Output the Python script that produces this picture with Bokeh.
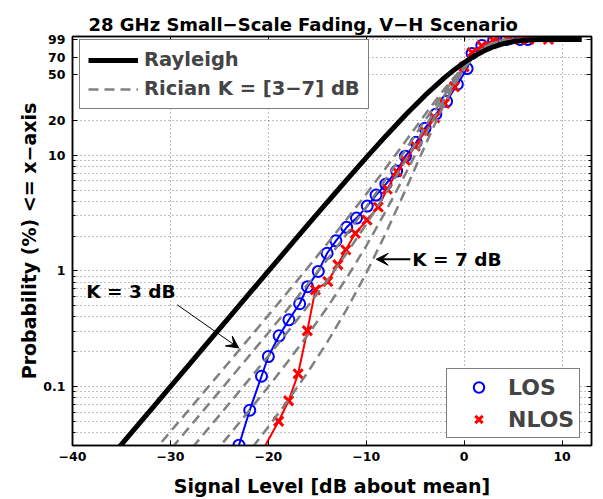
from bokeh.plotting import figure
from bokeh.models import (Range1d, FixedTicker, LinearAxis, LogAxis, Legend, LegendItem,
                          Label, Arrow, VeeHead, BasicTickFormatter)
from bokeh.embed import file_html
from bokeh.resources import INLINE

FONT = "DejaVu Sans"
TITLE = "28 GHz Small\u2212Scale Fading, V\u2212H Scenario"
XLABEL = "Signal Level [dB about mean]"
YLABEL = "Probability (%) <= x\u2212axis"

# ---------------- data ----------------
x_ticks = [-40, -30, -20, -10, 0, 10]
x_tick_labels = ["\u221240", "\u221230", "\u221220", "\u221210", "0", "10"]
y_ticks = [0.1, 1, 10, 20, 50, 70, 99]
y_tick_labels = ["0.1", "1", "10", "20", "50", "70", "99"]
y_minor = [0.04, 0.05, 0.06, 0.07, 0.08, 0.09,
           0.2, 0.3, 0.4, 0.5, 0.6, 0.7, 0.8, 0.9,
           2, 3, 4, 5, 6, 7, 8, 9]

ray_x = [-35.5, -34, -32, -30, -28, -26, -24, -22, -20, -18, -16, -14, -12, -10,
         -8, -6, -4, -2, -1, 0, 1, 2, 3, 4, 5, 6, 7, 8, 10, 12]
ray_p = [0.0282, 0.0398, 0.0631, 0.09995, 0.1584, 0.2509, 0.3973, 0.629, 0.995,
         1.572, 2.481, 3.90, 6.12, 9.52, 14.66, 22.2, 32.8, 46.8, 54.8, 63.2,
         71.6, 79.5, 86.4, 91.9, 95.8, 98.1, 99.33, 99.82, 99.995, 100]

ric_x = [-33, -30, -28, -26, -24, -22, -20, -18, -16, -14, -12, -10, -8, -6, -5,
         -4, -3, -2, -1, 0, 1, 2, 3, 4, 5, 6, 8]
ric_k3 = [0.02043, 0.04079, 0.0647, 0.1027, 0.1631, 0.2594, 0.4133, 0.6605, 1.06,
          1.714, 2.796, 4.621, 7.748, 13.16, 17.2, 22.44, 29.13, 37.44, 47.36,
          58.54, 70.16, 81, 89.75, 95.56, 98.56, 99.68, 100]
ric_k4 = [0.0143, 0.02856, 0.04534, 0.07203, 0.1146, 0.1827, 0.2924, 0.4703,
          0.7625, 1.251, 2.085, 3.553, 6.206, 11.09, 14.91, 20.02, 26.75, 35.35,
          45.85, 57.84, 70.34, 81.84, 90.79, 96.37, 98.98, 99.82, 100]
ric_k5 = [0.00885, 0.0177, 0.02812, 0.04476, 0.0714, 0.1143, 0.1841, 0.2991,
          0.4923, 0.8259, 1.422, 2.532, 4.683, 8.962, 12.5, 17.43, 24.17, 33.07,
          44.21, 57.16, 70.68, 82.89, 91.98, 97.2, 99.34, 99.91, 100]
ric_k6 = [0.004677, 0.009367, 0.01491, 0.02379, 0.03811, 0.06142, 0.09991,
          0.1648, 0.2776, 0.4816, 0.869, 1.646, 3.29, 6.89, 10.08, 14.75, 21.42,
          30.59, 42.46, 56.51, 71.2, 84.16, 93.26, 97.97, 99.62, 99.96, 100]
ric_k7 = [0.002018, 0.004051, 0.006466, 0.01036, 0.01671, 0.0272, 0.04494,
          0.0759, 0.1323, 0.241, 0.4646, 0.9582, 2.122, 4.991, 7.756, 12.05,
          18.56, 27.95, 40.58, 55.89, 71.92, 85.63, 94.57, 98.65, 99.81, 99.99, 100]

los_x = [-23.0, -21.9, -20.7, -20.0, -18.9, -17.9, -16.8, -16.0, -14.9, -14.0,
         -13.1, -12.0, -11.0, -9.9, -9.0, -8.0, -6.9, -6.0, -4.9, -4.0, -2.9,
         -1.8, -0.7, 0.3, 0.8, 1.8, 3.0, 4.3, 5.7, 6.5]
los_p = [0.0312, 0.0625, 0.123, 0.182, 0.275, 0.378, 0.52, 0.73, 0.99, 1.42,
         1.82, 2.38, 2.86, 3.63, 4.52, 5.62, 7.28, 9.8, 12.9, 17.1, 22.6, 29.2,
         41, 56, 75.7, 88.8, 98, 99.8, 100, 100]

nlos_x = [-20.6, -18.95, -17.93, -16.96, -16.02, -15.2, -13.93, -12.9, -12.09,
          -11.12, -9.93, -8.78, -7.86, -6.87, -6.0, -5.0, -4.0, -3.0, -2.0, -1.0,
          0.0, 0.8, 1.8, 3.0, 4.5, 5.7, 6.6, 8.6]
nlos_p = [0.028, 0.0502, 0.0755, 0.129, 0.304, 0.686, 0.809, 1.13, 1.52, 2.11,
          2.75, 3.56, 5.09, 7.18, 9.0, 12, 16, 21, 28, 39, 58, 77, 88, 98, 100,
          100, 100, 100]

# ---------------- figure ----------------
p = figure(width=603, height=499, x_range=Range1d(-40, 13), y_range=Range1d(0.031, 106),
           y_axis_type="log", output_backend="svg", toolbar_location=None, title=TITLE,
           min_border_left=72, min_border_right=12, min_border_top=36, min_border_bottom=53,
           background_fill_color="white", border_fill_color="white")
p.outline_line_color = "black"
p.outline_line_width = 1.5
p.title.text_font = FONT
p.title.text_font_style = "bold"
p.title.text_font_size = "18px"
p.title.text_color = "black"
p.title.align = "left"
p.title.offset = 16
p.title.vertical_align = "top"
p.title.standoff = 0

xt = FixedTicker(ticks=x_ticks, minor_ticks=[])
yt = FixedTicker(ticks=y_ticks, minor_ticks=y_minor)

def style_axis(ax, ticker, labels, show_labels):
    ax.ticker = ticker
    ax.formatter = BasicTickFormatter()
    ax.major_label_overrides = {t: (l if show_labels else "") for t, l in zip(ticker.ticks, labels)}
    ax.axis_line_color = "black"
    ax.axis_line_width = 1.5
    ax.major_tick_in = 5
    ax.major_tick_out = 0
    ax.minor_tick_in = 3
    ax.minor_tick_out = 0
    ax.major_tick_line_color = "black"
    ax.minor_tick_line_color = "black"
    ax.major_label_text_font = FONT
    ax.major_label_text_font_style = "bold"
    ax.major_label_text_font_size = "12.5px" if show_labels else "0px"
    ax.major_label_text_color = "black"
    ax.axis_label_text_font = FONT
    ax.axis_label_text_font_style = "bold"
    ax.axis_label_text_font_size = "19px"
    ax.axis_label_text_color = "black"

xa = p.xaxis[0]
ya = p.yaxis[0]
style_axis(xa, xt, x_tick_labels, True)
style_axis(ya, yt, y_tick_labels, True)
xa.major_label_standoff = 6
xa.axis_label = XLABEL
xa.axis_label_standoff = 11
ya.major_label_standoff = 7
ya.axis_label = YLABEL
ya.axis_label_standoff = 0

xa_top = LinearAxis()
style_axis(xa_top, xt, x_tick_labels, False)
xa_top.major_label_standoff = 0
p.add_layout(xa_top, "above")
ya_right = LogAxis()
style_axis(ya_right, yt, y_tick_labels, False)
ya_right.major_label_standoff = 0
p.add_layout(ya_right, "right")

for g in (p.xgrid[0], p.ygrid[0]):
    g.grid_line_color = "black"
    g.grid_line_alpha = 0.5
    g.grid_line_dash = "1 3"
    g.grid_line_width = 1
p.xgrid[0].ticker = xt
p.ygrid[0].ticker = yt
p.ygrid[0].minor_grid_line_color = "black"
p.ygrid[0].minor_grid_line_alpha = 0.5
p.ygrid[0].minor_grid_line_dash = "1 3"

# ---------------- data glyphs ----------------
BLUE = "#0000ff"
RED = "#ff0000"
GRAY = "#808080"
p.line(los_x, los_p, line_color=BLUE, line_width=2)
los_m = p.scatter(los_x, los_p, marker="circle", size=11, fill_color=None,
                  line_color=BLUE, line_width=2)
p.line(nlos_x, nlos_p, line_color=RED, line_width=2)
nlos_m = p.scatter(nlos_x, nlos_p, marker="x", size=13, line_color=RED, line_width=3)

ric_r = None
for series in (ric_k3, ric_k4, ric_k5, ric_k6, ric_k7):
    r = p.line(ric_x, series, line_color=GRAY, line_width=2.5, line_dash="10 6")
    if ric_r is None:
        ric_r = r
ray_r = p.line(ray_x, ray_p, line_color="black", line_width=5)

# ---------------- annotations ----------------
p.add_layout(Label(x=-38.6, y=0.663, text="K = 3 dB", text_baseline="middle",
                   text_font=FONT, text_font_style="bold", text_font_size="18.5px",
                   text_color="black"))
p.add_layout(Arrow(end=VeeHead(size=12, fill_color="black", line_color="black"),
                   x_start=-29.3, y_start=0.509, x_end=-23.03, y_end=0.216,
                   line_color="black", line_width=1))
p.add_layout(Label(x=-5.3, y=1.26, text="K = 7 dB", text_baseline="middle",
                   text_font=FONT, text_font_style="bold", text_font_size="18.5px",
                   text_color="black"))
p.add_layout(Arrow(end=VeeHead(size=12, fill_color="black", line_color="black"),
                   x_start=-5.5, y_start=1.26, x_end=-8.98, y_end=1.26,
                   line_color="black", line_width=2))

# ---------------- legends ----------------
leg1 = Legend(items=[LegendItem(label="Rayleigh", renderers=[ray_r]),
                     LegendItem(label="Rician K = [3\u22127] dB", renderers=[ric_r])],
              location=(7, 336), padding=8, spacing=6, glyph_width=50, glyph_height=22,
              label_height=22, label_standoff=6, label_text_font=FONT,
              label_text_font_style="bold", label_text_font_size="19.5px",
              border_line_color="black", border_line_width=1.5,
              background_fill_color="white", background_fill_alpha=1, margin=0)
leg2 = Legend(items=[LegendItem(label="LOS", renderers=[los_m]),
                     LegendItem(label="NLOS", renderers=[nlos_m])],
              location=(374, 7), padding=5, spacing=6, glyph_width=53, glyph_height=26,
              label_height=26, label_standoff=3, label_text_font=FONT,
              label_text_font_style="bold", label_text_font_size="22px",
              border_line_color="black", border_line_width=1.5,
              background_fill_color="white", background_fill_alpha=1, margin=0)
p.add_layout(leg1, "center")
p.add_layout(leg2, "center")

open("out.html", "w").write(file_html(p, INLINE))
